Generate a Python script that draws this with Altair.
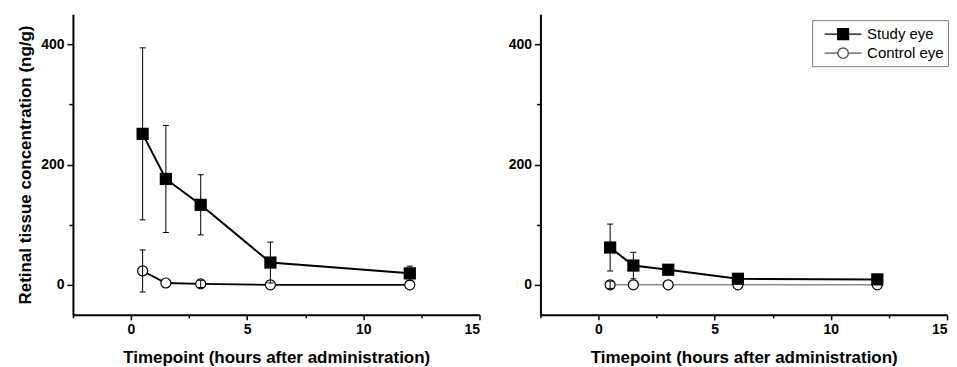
import altair as alt
import pandas as pd

# ---- data ----
times = [0.5, 1.5, 3, 6, 12]
left_study = [251, 176, 133, 37, 19]
left_study_err = [143, 89, 50, 34, 12]
left_control = [23, 3, 1.5, 0, 0]
left_control_err = [35, 0, 6, 0, 0]
right_study = [62, 32, 25, 10, 9]
right_study_err = [39, 22, 5, 3, 2]
right_control = [0, 0, 0, 0, 0]
right_control_err = [6, 0, 0, 0, 0]

series_names = ["Study eye", "Control eye"]
x_title = "Timepoint (hours after administration)"
y_title = "Retinal tissue concentration (ng/g)"
x_tick_values = [-2.5, 0, 2.5, 5, 7.5, 10, 12.5, 15]
y_tick_values = [0, 100, 200, 300, 400]
x_domain = [-2.5, 15]
y_domain = [-50, 450]

FONT = "Liberation Sans"
W, H = 407, 301

# legend symbols: line + marker drawn as one custom path
path_study = "M-2.05,0H2.05M-0.6,-0.6H0.6V0.6H-0.6Z"
path_control = ("M-2.05,0H-0.58M0.58,0H2.05M0.58,0A0.58,0.58 0 1,1 -0.58,0"
                "A0.58,0.58 0 1,1 0.58,0Z")


def make_df(vals, errs, name):
    return pd.DataFrame({
        "time": times,
        "value": vals,
        "err": errs,
        "lo": [v - e for v, e in zip(vals, errs)],
        "hi": [v + e for v, e in zip(vals, errs)],
        "series": [name] * len(times),
    })


def panel(study, study_err, control, control_err, control_line_color,
          control_line_width, show_ytitle, with_legend):
    ds = make_df(study, study_err, series_names[0])
    dc = make_df(control, control_err, series_names[1])
    both = pd.concat([ds, dc], ignore_index=True)

    xaxis = alt.Axis(
        values=x_tick_values,
        labelExpr="datum.value % 5 === 0 ? format(datum.value, 'd') : ''",
        tickSize={"condition": {"test": "datum.value % 5 === 0", "value": 5}, "value": 3},
        title=x_title,
        titlePadding=13,
        labelPadding=3,
    )
    yaxis = alt.Axis(
        values=y_tick_values,
        labelExpr="datum.value % 200 === 0 ? format(datum.value, 'd') : ''",
        tickSize={"condition": {"test": "datum.value % 200 === 0", "value": 6}, "value": 4},
        title=y_title if show_ytitle else None,
        titlePadding=6,
        labelPadding=3,
    )
    x = alt.X("time:Q", scale=alt.Scale(domain=x_domain, nice=False, zero=False), axis=xaxis)
    y = alt.Y("value:Q", scale=alt.Scale(domain=y_domain, nice=False, zero=False), axis=yaxis)
    xn = alt.X("time:Q")

    control_line = alt.Chart(dc).mark_line(color=control_line_color, strokeWidth=control_line_width).encode(x=x, y=y)
    study_line = alt.Chart(ds).mark_line(color="black", strokeWidth=2).encode(x=xn, y="value:Q")
    control_pts = alt.Chart(dc).mark_point(
        shape="circle", filled=True, fill="white", stroke="black", strokeWidth=1.2,
        size=100, opacity=1).encode(x=xn, y="value:Q")
    study_pts = alt.Chart(ds).mark_point(
        shape="square", filled=True, color="black", size=150, opacity=1).encode(x=xn, y="value:Q")

    eb = alt.Chart(both).transform_filter("datum.err > 0")
    rules = eb.mark_rule(color="black", strokeWidth=1).encode(x=xn, y="lo:Q", y2="hi:Q")
    cap_lo = eb.mark_tick(orient="horizontal", size=6, thickness=1, color="black", opacity=1).encode(x=xn, y="lo:Q")
    cap_hi = eb.mark_tick(orient="horizontal", size=6, thickness=1, color="black", opacity=1).encode(x=xn, y="hi:Q")

    layers = [control_line, study_line, control_pts, study_pts, rules, cap_lo, cap_hi]

    if with_legend:
        leg = alt.Legend(
            title=None, orient="none", legendX=272, legendY=6,
            direction="vertical",
            strokeColor="#808080", fillColor="white", padding=4,
            labelFont=FONT, labelFontSize=15, labelColor="black",
            symbolSize=324, symbolStrokeWidth=1.4, symbolOffset=17,
            labelOffset=14, rowPadding=-2,
        )
        legend_layer = alt.Chart(both).transform_filter("false").mark_point(
            filled=True, opacity=1).encode(
            x=xn, y="value:Q",
            shape=alt.Shape("series:N", scale=alt.Scale(domain=series_names, range=[path_study, path_control]), legend=leg),
            fill=alt.Fill("series:N", scale=alt.Scale(domain=series_names, range=["black", "white"]), legend=leg),
            stroke=alt.Stroke("series:N", scale=alt.Scale(domain=series_names, range=["black", "#555555"]), legend=leg),
        )
        layers.append(legend_layer)

    return alt.layer(*layers).properties(width=W, height=H)


left = panel(left_study, left_study_err, left_control, left_control_err, "black", 1.8, True, False)
right = panel(right_study, right_study_err, right_control, right_control_err, "#8c8c8c", 1.6, False, True)

chart = alt.hconcat(left, right, spacing=27).resolve_scale(
    shape="independent", fill="independent", stroke="independent"
).properties(
    padding={"left": 8, "top": 6, "right": 0, "bottom": 0}
).configure_view(stroke=None).configure_axis(
    grid=False,
    domainColor="black", domainWidth=2,
    tickColor="black", tickWidth=1.5,
    labelFont=FONT, labelFontWeight="bold", labelFontSize=14, labelColor="black",
    titleFont=FONT, titleFontWeight="bold", titleFontSize=17, titleColor="black",
)

chart.save("out.html", embed_options={"renderer": "svg", "actions": False})
